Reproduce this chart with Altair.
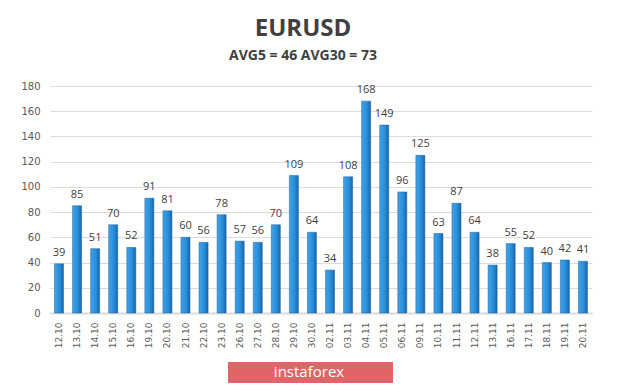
import altair as alt
import pandas as pd

dates = ["12.10", "13.10", "14.10", "15.10", "16.10", "19.10", "20.10", "21.10", "22.10", "23.10",
         "26.10", "27.10", "28.10", "29.10", "30.10", "02.11", "03.11", "04.11", "05.11", "06.11",
         "09.11", "10.11", "11.11", "12.11", "13.11", "16.11", "17.11", "18.11", "19.11", "20.11"]
values = [39, 85, 51, 70, 52, 91, 81, 60, 56, 78,
          57, 56, 70, 109, 64, 34, 108, 168, 149, 96,
          125, 63, 87, 64, 38, 55, 52, 40, 42, 41]
y_ticks = [0, 20, 40, 60, 80, 100, 120, 140, 160, 180]

df = pd.DataFrame({"date": dates, "value": values})

W, H = 542, 227

grad = alt.Gradient(
    gradient="linear",
    stops=[
        alt.GradientStop(color="#3FA3EA", offset=0),
        alt.GradientStop(color="#2A8FDB", offset=0.55),
        alt.GradientStop(color="#1A66A8", offset=1),
    ],
    x1=0, x2=1, y1=0, y2=0,
)

x = alt.X("date:N", sort=dates, title=None,
          scale=alt.Scale(paddingInner=0.5, paddingOuter=0.25),
          axis=alt.Axis(labelAngle=-90, labelFont="DejaVu Sans", labelFontSize=9,
                        labelColor="#595959", ticks=False, domain=True, grid=False,
                        domainColor="#D9D9D9", domainWidth=2, labelPadding=9))
y = alt.Y("value:Q", title=None,
          scale=alt.Scale(domain=[0, 180], nice=False),
          axis=alt.Axis(values=y_ticks, labelOverlap=False, labelFont="DejaVu Sans",
                        labelFontSize=10, labelColor="#595959", ticks=False, domain=False,
                        grid=True, gridColor="#DCDCDC", gridWidth=1, labelPadding=10))

bars = alt.Chart(df).mark_bar(color=grad, stroke="#1A5E9A", strokeWidth=0.5).encode(x=x, y=y)

labels = alt.Chart(df).mark_text(baseline="bottom", dy=-6, font="Open Sans", fontSize=11,
                                 color="#404040").encode(x=x, y=y, text="value:Q")

logo_rect = alt.Chart(pd.DataFrame({"a": [0]})).mark_rect(color="#E06468").encode(
    x=alt.value(178), x2=alt.value(343), y=alt.value(276), y2=alt.value(297))
logo_text = alt.Chart(pd.DataFrame({"t": ["instaforex"]})).mark_text(
    color="white", font="Open Sans", fontSize=15, baseline="middle", align="center").encode(
    x=alt.value(259), y=alt.value(286), text="t:N")

chart = alt.layer(bars, labels, logo_rect, logo_text).properties(
    width=W, height=H,
    title=alt.TitleParams(text="EURUSD", subtitle="AVG5 = 46 AVG30 = 73",
                          anchor="middle", dx=-18, offset=18,
                          font="Open Sans", fontSize=24, fontWeight="bold", color="#404040",
                          subtitleFont="Open Sans", subtitleFontSize=14,
                          subtitleFontWeight="bold", subtitleColor="#404040",
                          subtitlePadding=8),
    padding={"left": 42, "top": 78, "right": 20, "bottom": 71},
    autosize=alt.AutoSizeParams(type="none"),
).configure(background="white").configure_view(stroke=None)

chart.save("out.html", embed_options={"renderer": "svg", "actions": False})
